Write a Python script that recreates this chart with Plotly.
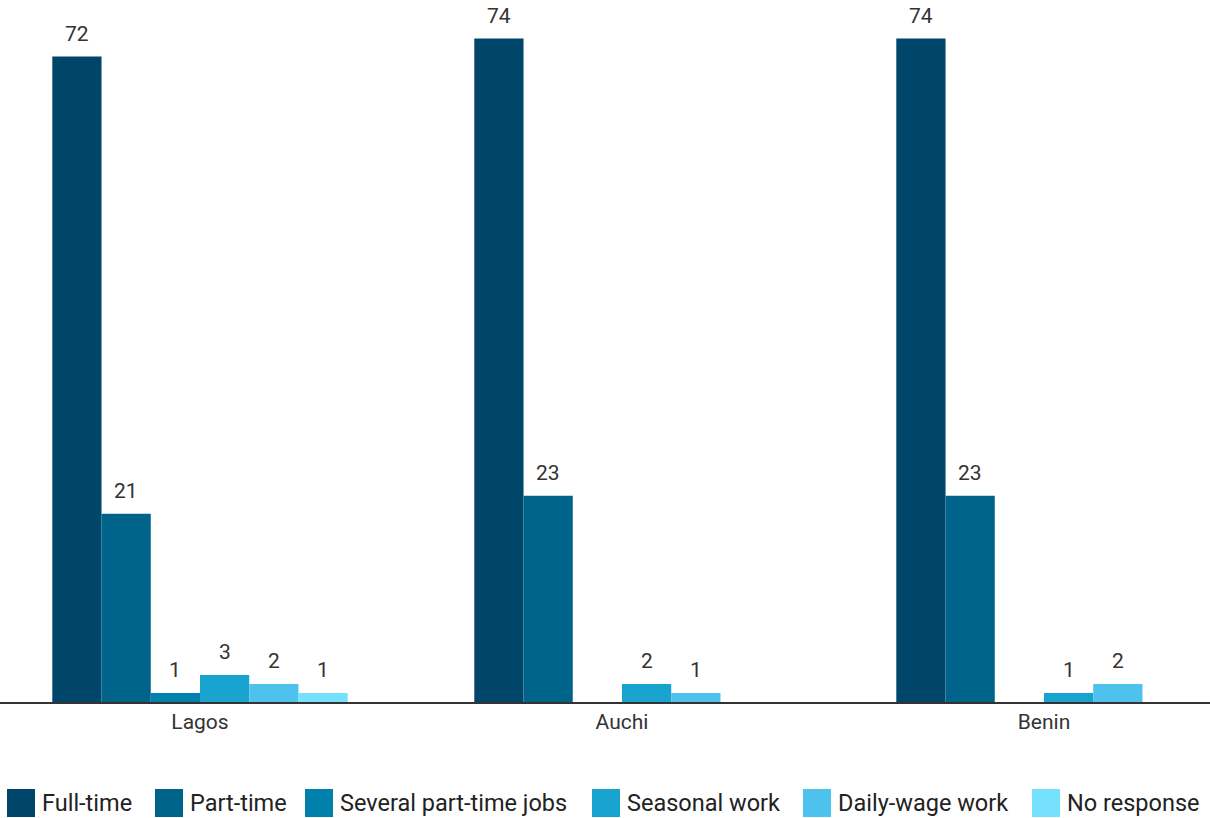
import plotly.graph_objects as go

categories = ["Lagos", "Auchi", "Benin"]
series_names = ["Full-time", "Part-time", "Several part-time jobs", "Seasonal work", "Daily-wage work", "No response"]
full_time = [72, 74, 74]
part_time = [21, 23, 23]
several_part_time = [1, None, None]
seasonal = [3, 2, 1]
daily_wage = [2, 1, 2]
no_response = [1, None, None]
colors = ["#00466b", "#00638a", "#0081ab", "#19a3cf", "#4dc2ed", "#76e1fc"]

series_values = [full_time, part_time, several_part_time, seasonal, daily_wage, no_response]

W, H = 1210, 818
M_T, M_B = 10, 116
BARGAP = 0.3
plot_h = H - M_T - M_B
base_px = H - M_B

fig = go.Figure()
n = len(series_names)
bar_w = (1 - BARGAP) / n
for i, (name, vals, col) in enumerate(zip(series_names, series_values, colors)):
    fig.add_trace(go.Bar(
        x=categories, y=vals, name=name,
        marker=dict(color=col, line=dict(width=0)),
        showlegend=False,
    ))
    off = (i - (n - 1) / 2) * bar_w
    for ci, v in enumerate(vals):
        if v is None:
            continue
        fig.add_annotation(x=ci + off, y=v, text=str(v), showarrow=False,
                           xref="x", yref="y", yanchor="bottom", yshift=9,
                           font=dict(size=21, color="#333333", family="Roboto"))

# manual legend (large square swatches)
legend_px = [7, 155, 305, 592, 803, 1032]
sw = 28
sw_top = 789
for name, col, lx in zip(series_names, colors, legend_px):
    y0 = (base_px - (sw_top + sw)) / plot_h
    y1 = (base_px - sw_top) / plot_h
    fig.add_shape(type="rect", xref="paper", yref="paper",
                  x0=lx / W, x1=(lx + sw) / W, y0=y0, y1=y1,
                  fillcolor=col, line=dict(width=0))
    fig.add_annotation(xref="paper", yref="paper", x=(lx + sw + 5) / W,
                       y=(y0 + y1) / 2, xanchor="left", yanchor="middle",
                       text=name, showarrow=False,
                       font=dict(size=23.5, color="#222222", family="Roboto"))

fig.update_layout(
    width=W, height=H,
    barmode="group", bargap=BARGAP, bargroupgap=0,
    plot_bgcolor="white", paper_bgcolor="white",
    margin=dict(l=0, r=0, t=M_T, b=M_B, autoexpand=False),
    font=dict(family="Roboto", size=20, color="#333333"),
    showlegend=False,
    xaxis=dict(range=[-200 / 422, (W - 200) / 422], showline=True, linecolor="#333333", linewidth=2,
               ticks="", showgrid=False, tickfont=dict(size=21, color="#333333")),
    yaxis=dict(range=[0, plot_h / 8.965], visible=False, showgrid=False, zeroline=False),
)

fig.write_html("out.html", config={"displayModeBar": False},
               post_script="document.body.style.margin='0';document.body.style.padding='0';")
